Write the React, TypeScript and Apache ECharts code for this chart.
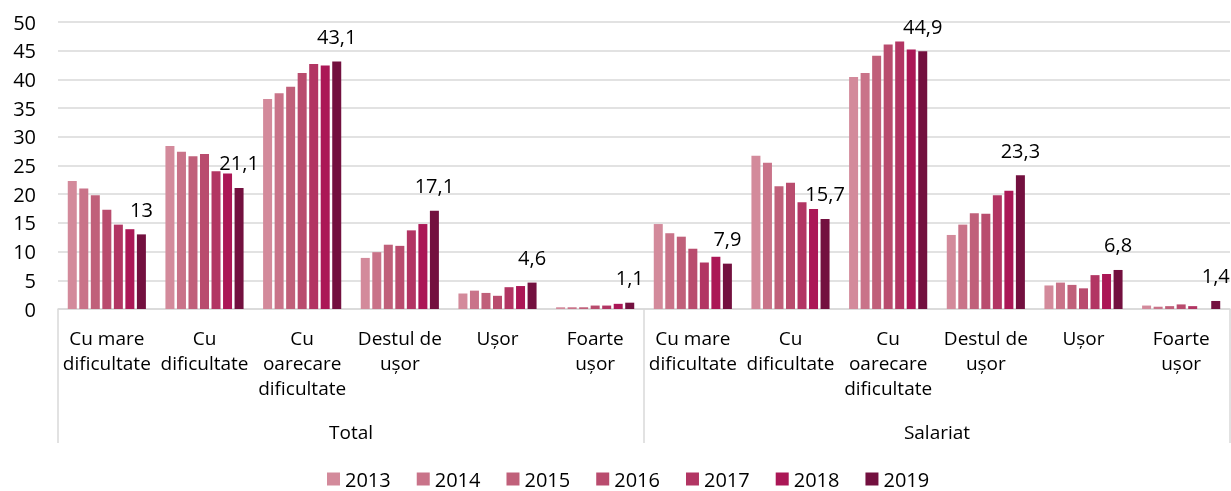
import React, { useEffect, useRef } from 'react';
import * as echarts from 'echarts';

const subCategories = [
  'Cu mare\ndificultate', 'Cu\ndificultate', 'Cu\noarecare\ndificultate', 'Destul de\nușor', 'Ușor', 'Foarte\nușor',
  'Cu mare\ndificultate', 'Cu\ndificultate', 'Cu\noarecare\ndificultate', 'Destul de\nușor', 'Ușor', 'Foarte\nușor',
];
const groups = ['Total', 'Salariat'];
const years = ['2013', '2014', '2015', '2016', '2017', '2018', '2019'];
const yTicks = { min: 0, max: 50, interval: 5 };

const v2013 = [22.3, 28.4, 36.6, 8.9, 2.7, 0.3, 14.8, 26.7, 40.4, 12.9, 4.1, 0.6];
const v2014 = [21.0, 27.4, 37.6, 9.9, 3.2, 0.3, 13.2, 25.5, 41.1, 14.7, 4.6, 0.4];
const v2015 = [19.8, 26.6, 38.7, 11.2, 2.8, 0.3, 12.6, 21.4, 44.1, 16.7, 4.2, 0.5];
const v2016 = [17.3, 27.0, 41.1, 11.0, 2.3, 0.6, 10.5, 22.0, 46.1, 16.6, 3.6, 0.8];
const v2017 = [14.7, 24.0, 42.7, 13.7, 3.8, 0.6, 8.1, 18.6, 46.6, 19.8, 5.9, 0.5];
const v2018 = [13.9, 23.6, 42.4, 14.8, 4.0, 0.9, 9.1, 17.4, 45.2, 20.6, 6.1, null];
const v2019 = [13.0, 21.1, 43.1, 17.1, 4.6, 1.1, 7.9, 15.7, 44.9, 23.3, 6.8, 1.4];
const seriesValues = [v2013, v2014, v2015, v2016, v2017, v2018, v2019];

const colors = ['#d38a9b', '#c97389', '#c0607a', '#b94c6e', '#b23563', '#ab1756', '#73103f'];

const FONT = 'Open Sans';

export default function App() {
  const ref = useRef<HTMLDivElement>(null);
  useEffect(() => {
    if (!ref.current) return;
    const chart = echarts.init(ref.current, null, { renderer: 'svg' });
    chart.setOption({
      animation: false,
      textStyle: { fontFamily: FONT },
      grid: { left: 58, right: 1, top: 22, bottom: 182, containLabel: false },
      legend: {
        top: 469,
        padding: 0,
        left: 327,
        itemWidth: 13,
        itemHeight: 13,
        itemGap: 26,
        icon: 'rect',
        textStyle: { fontSize: 20, lineHeight: 20, color: '#000', fontFamily: FONT },
        data: years,
      },
      xAxis: [
        {
          type: 'category',
          data: subCategories,
          position: 'bottom',
          axisLine: { show: true, lineStyle: { color: '#d9d9d9', width: 1.5 } },
          axisTick: { show: false },
          axisLabel: { interval: 0, color: '#000', fontSize: 19, lineHeight: 25, margin: 16, fontFamily: FONT },
        },
        {
          type: 'category',
          data: groups,
          position: 'bottom',
          axisLine: { show: false },
          axisTick: { show: true, length: 134, lineStyle: { color: '#d9d9d9', width: 1.5 } },
          axisLabel: { interval: 0, color: '#000', fontSize: 19, margin: 113, fontFamily: FONT },
        },
      ],
      yAxis: {
        type: 'value',
        min: yTicks.min,
        max: yTicks.max,
        interval: yTicks.interval,
        axisLine: { show: false },
        axisTick: { show: false },
        axisLabel: { color: '#000', fontSize: 20, margin: 22, fontFamily: FONT },
        splitLine: { lineStyle: { color: '#d9d9d9', width: 1.5 } },
      },
      series: years.map((y, i) => ({
        name: y,
        type: 'bar',
        xAxisIndex: 0,
        data: seriesValues[i],
        barCategoryGap: '20%',
        barGap: '28%',
        itemStyle: { color: colors[i] },
        label: i === years.length - 1 ? {
          show: true,
          position: 'top',
          distance: 15,
          fontSize: 20,
          color: '#000',
          fontFamily: FONT,
          formatter: (p: any) => String(p.value).replace('.', ','),
        } : { show: false },
      })),
    });
    return () => chart.dispose();
  }, []);
  return <div ref={ref} style={{ position: 'fixed', left: 0, top: 0, width: 1231, height: 491 }} />;
}
